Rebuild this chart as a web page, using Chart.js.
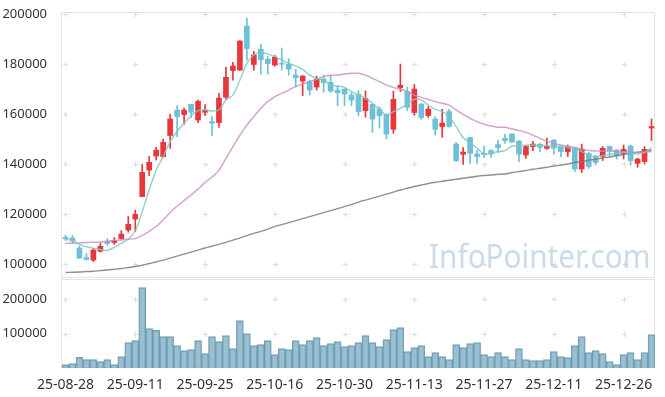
<!DOCTYPE html>
<html>
<head>
<meta charset="utf-8">
<script src="https://cdn.jsdelivr.net/npm/chart.js@4.4.1/dist/chart.umd.min.js"></script>
<style>
  html, body { margin: 0; padding: 0; background: #fff; }
  #wrap { position: relative; width: 665px; height: 397px; overflow: hidden; }
  #c1 { position: absolute; left: 0; top: 0; }
  #c2 { position: absolute; left: 0; top: 278px; }
  #wm { position: absolute; left: 429px; top: 233px; font-family: "Noto Sans", sans-serif; font-size: 33px;
        color: rgba(165, 197, 215, 0.6); white-space: nowrap; pointer-events: none;
        transform: scaleX(0.9); transform-origin: 0 0; }
</style>
</head>
<body>
<div id="wrap">
  <canvas id="c1" width="665" height="280"></canvas>
  <canvas id="c2" width="665" height="119"></canvas>
  <div id="wm">InfoPointer.com</div>
</div>
<script>
const dates = [
  "25-08-28","25-08-29","25-09-01","25-09-02","25-09-03","25-09-04","25-09-05","25-09-08","25-09-09","25-09-10",
  "25-09-11","25-09-12","25-09-15","25-09-16","25-09-17","25-09-18","25-09-19","25-09-22","25-09-23","25-09-24",
  "25-09-25","25-09-26","25-09-29","25-09-30","25-10-01","25-10-02","25-10-10","25-10-13","25-10-14","25-10-15",
  "25-10-16","25-10-17","25-10-20","25-10-21","25-10-22","25-10-23","25-10-24","25-10-27","25-10-28","25-10-29",
  "25-10-30","25-10-31","25-11-03","25-11-04","25-11-05","25-11-06","25-11-07","25-11-10","25-11-11","25-11-12",
  "25-11-13","25-11-14","25-11-17","25-11-18","25-11-19","25-11-20","25-11-21","25-11-24","25-11-25","25-11-26",
  "25-11-27","25-11-28","25-12-01","25-12-02","25-12-03","25-12-04","25-12-05","25-12-08","25-12-09","25-12-10",
  "25-12-11","25-12-12","25-12-15","25-12-16","25-12-17","25-12-18","25-12-19","25-12-22","25-12-23","25-12-24",
  "25-12-26","25-12-29","25-12-30","26-01-02","26-01-05"
];
const opens = [
  110800,110500,106500,102700,101700,105200,109100,108700,110300,113700,
  118100,127100,137700,143300,143100,151500,161700,159900,164000,157700,
  160800,157100,156700,166800,177500,177700,195300,179900,186000,182000,
  179700,180400,180100,175700,173300,173100,170900,174100,172800,169700,
  170100,167700,168000,161500,164000,162100,160000,154000,170700,169100,
  160700,164100,159500,158100,155100,161100,148100,144000,150700,144100,
  144400,145500,147900,150400,152100,149300,143700,147100,148000,146400,
  149700,147100,145100,146400,138100,144400,143100,143100,147100,145700,
  144100,147300,140400,141100,154500
];
const highs = [
  111600,111600,107300,104300,106300,108500,110300,110700,113500,119100,
  121700,140000,143100,146800,150100,160000,163500,162500,164100,165700,
  163900,159100,168400,178800,180800,189500,198400,185200,188100,183100,
  183500,186500,182300,178000,175500,173700,175300,175700,175500,171300,
  170300,168700,169500,169300,164200,163100,160200,169300,180100,170900,
  172000,164300,163100,159100,162000,162000,148800,146700,150900,145700,
  147300,145900,149700,152100,152400,149500,147600,149200,148400,150500,
  149900,147300,147700,146700,148100,144700,143700,147100,147300,145900,
  147700,147700,142400,147100,158100
];
const lows = [
  109500,108400,102300,101700,101100,104900,107600,108000,110000,112800,
  113100,127100,135500,141700,142900,146400,151100,156000,158800,156700,
  159600,151500,154800,166100,173700,177500,181700,177700,176100,176100,
  179300,177700,175700,171200,167500,167700,169700,168800,168800,163500,
  163500,163500,159300,158800,152700,154400,150100,152400,169100,161500,
  159700,158000,158700,151700,150800,154800,141100,140000,140400,140400,
  142700,142800,144700,148400,148700,141100,142400,145500,145100,146000,
  144100,143100,143100,137100,136700,138400,139700,141500,143100,142100,
  142100,139700,138800,140100,149500
];
const closes = [
  110200,109300,102500,101900,105700,107200,108300,109500,112100,116000,
  120000,136800,140800,145700,148800,158100,159100,161700,160800,165200,
  161700,156500,166500,174800,179300,189300,186300,183700,181900,180300,
  182900,180000,178100,174700,175300,169700,174100,172700,169300,168700,
  168100,165700,161100,166400,158100,159500,152100,166000,171600,162800,
  170100,158700,162100,154000,156500,155100,141500,144900,144400,143100,
  143900,144100,146700,149500,148900,144100,147100,148100,146800,147100,
  146400,145100,147100,138100,146100,139100,140700,146400,145500,143300,
  146000,141500,142100,146000,155100
];
const volumes = [
  9700,12600,30900,24200,24200,18400,24200,9700,32800,73400,
  79200,232800,114000,109000,90800,90800,64700,50200,53100,79200,
  41500,90800,76300,93700,56000,137200,99500,64700,67600,79200,
  38600,56000,53100,79200,67600,79200,87900,64700,70500,76300,
  61800,64700,73400,93700,73400,61800,82100,111100,116900,47300,
  58900,64700,32800,44400,32800,24200,67600,58900,70500,73400,
  38600,32800,44400,32800,24200,56000,24200,21300,21300,24200,
  47300,32800,29900,64700,90800,44400,50200,41500,18400,9700,
  38600,44400,24200,44400,96600
];
const ma5 = [
  110000,109500,108000,107000,106400,105900,105500,106800,108400,110000,
  113300,121100,129700,137700,143100,149100,153100,156400,159300,161500,
  161700,161300,161700,165700,167700,173700,180400,183700,184700,184100,
  183100,181700,180400,179300,178000,175700,174400,173700,171700,171300,
  170800,169100,167700,166400,164400,162000,159700,161100,162400,164100,
  166000,165700,163700,162000,161100,159100,155100,150700,148700,146400,
  144100,144400,145100,145500,147300,147500,147600,147700,147500,147500,
  147300,147100,146800,146000,145100,143700,143100,143500,144000,144400,
  144700,144400,144100,144700,146700
];
const ma20 = [
  108400,108400,108500,108700,108800,108900,109200,109500,109700,110000,
  110300,111600,113200,115100,117700,120700,123300,125500,127700,130100,
  132700,134900,137700,142400,147100,151700,155700,159100,162400,165100,
  167100,168400,169700,171100,172100,173100,174000,175100,175600,175700,
  176100,176400,176400,175700,174400,173100,171700,170800,170000,169100,
  167700,166800,166000,165100,164400,163700,161700,160000,158400,157100,
  156100,155300,154800,154800,154100,153500,152800,151700,150400,149300,
  148400,147700,147100,146700,146000,145500,145300,145300,145300,145200,
  145100,144900,144800,144800,145100
];
const ma60 = [
  96700,96800,96900,97100,97200,97500,97700,98000,98300,98700,
  99100,99600,100300,100900,101700,102500,103300,104100,104900,105700,
  106500,107200,108000,108800,109700,110500,111500,112400,113200,114100,
  115100,115900,116700,117500,118300,119100,119900,120700,121500,122300,
  123100,123900,124900,125700,126500,127300,128100,128900,129700,130400,
  131100,131700,132300,132800,133200,133600,134000,134400,134800,135200,
  135500,135700,136000,136100,136700,137100,137500,138000,138400,138800,
  139300,139700,140100,140700,141100,141600,142000,142500,142900,143500,
  143900,144400,144800,145200,145700
];
const priceTicks = [100000,120000,140000,160000,180000,200000];
const volumeTicks = [100000,200000];
const labelIdx = [0,10,20,30,40,50,60,70,80];

const UP = '#e8363b', DOWN = '#6cc0d7';
const candleColors = opens.map((o,i) => closes[i] >= o ? UP : DOWN);
const AXIS_W = 62;
const tickFont = { family: '"Noto Sans", sans-serif', size: 13 };
const plain = v => String(v);
const noPadV = s => { s.width = AXIS_W; s.paddingTop = 0; s.paddingBottom = 0; };
const noPadH = s => { s.paddingLeft = 0; s.paddingRight = 0; };

const boxCross = {
  id: 'boxCross',
  beforeDatasetsDraw(chart) {
    const { ctx, chartArea: a, scales } = chart;
    const x = scales.x, y = scales.y;
    ctx.save();
    ctx.strokeStyle = '#e4e4e4';
    ctx.lineWidth = 1;
    ctx.strokeRect(Math.round(a.left) - 0.5, Math.round(a.top) + 0.5,
                   Math.round(a.right - a.left), Math.round(a.bottom - a.top) - 1);
    ctx.strokeStyle = '#dcdcdc';
    ctx.beginPath();
    labelIdx.forEach(i => {
      const px = Math.round(x.getPixelForValue(i)) + 0.5;
      y.ticks.forEach(t => {
        const py = Math.round(y.getPixelForValue(t.value)) + 0.5;
        ctx.moveTo(px - 2.5, py); ctx.lineTo(px + 2.5, py);
        ctx.moveTo(px, py - 2.5); ctx.lineTo(px, py + 2.5);
      });
    });
    ctx.stroke();
    ctx.restore();
  }
};

new Chart(document.getElementById('c1'), {
  type: 'bar',
  data: {
    labels: dates,
    datasets: [
      { type: 'line', data: ma5, borderColor: 'rgba(125,200,192,0.85)', borderWidth: 1.4, pointRadius: 0, tension: 0.3, order: 0 },
      { type: 'line', data: ma20, borderColor: 'rgba(200,135,195,0.8)', borderWidth: 1.4, pointRadius: 0, tension: 0.3, order: 0 },
      { type: 'line', data: ma60, borderColor: 'rgba(125,125,125,0.85)', borderWidth: 1.4, pointRadius: 0, tension: 0.3, order: 0 },
      { type: 'bar', data: lows.map((l,i) => [l, highs[i]]), backgroundColor: candleColors, barThickness: 1, grouped: false, order: 2 },
      { type: 'bar', data: opens.map((o,i) => [o, closes[i]]), backgroundColor: candleColors, barThickness: 5, grouped: false, order: 1 }
    ]
  },
  options: {
    responsive: false, animation: false,
    layout: { padding: { top: 12, right: 10, bottom: 2, left: 0 } },
    plugins: { legend: { display: false }, tooltip: { enabled: false } },
    scales: {
      x: { display: false, offset: true, afterFit: noPadH },
      y: {
        min: 94520, max: 200920,
        afterBuildTicks: s => { s.ticks = priceTicks.map(v => ({ value: v })); },
        afterFit: noPadV,
        grid: { display: false }, border: { display: false },
        ticks: { padding: 7, color: '#333', font: tickFont, callback: plain }
      }
    }
  },
  plugins: [boxCross]
});

new Chart(document.getElementById('c2'), {
  type: 'bar',
  data: {
    labels: dates,
    datasets: [
      { data: volumes, backgroundColor: 'rgba(128,175,198,0.8)', borderColor: 'rgba(92,142,168,0.85)', borderWidth: 1,
        categoryPercentage: 1, barPercentage: 1 }
    ]
  },
  options: {
    responsive: false, animation: false,
    layout: { padding: { top: 1, right: 10, bottom: 0, left: 0 } },
    plugins: { legend: { display: false }, tooltip: { enabled: false } },
    scales: {
      x: {
        offset: true,
        afterFit: s => { s.height = 29; s.paddingLeft = 0; s.paddingRight = 0; },
        grid: { display: false }, border: { display: false },
        ticks: { autoSkip: false, maxRotation: 0, padding: 1, color: '#333',
                 font: { family: '"Noto Sans", sans-serif', size: 14 },
                 callback: (v, i) => (i % 10 === 0 ? dates[i] : '') }
      },
      y: {
        min: 0, max: 258000,
        afterBuildTicks: s => { s.ticks = volumeTicks.map(v => ({ value: v })); },
        afterFit: noPadV,
        grid: { display: false }, border: { display: false },
        ticks: { padding: 7, color: '#333', font: tickFont, callback: plain }
      }
    }
  },
  plugins: [boxCross]
});
</script>
</body>
</html>
